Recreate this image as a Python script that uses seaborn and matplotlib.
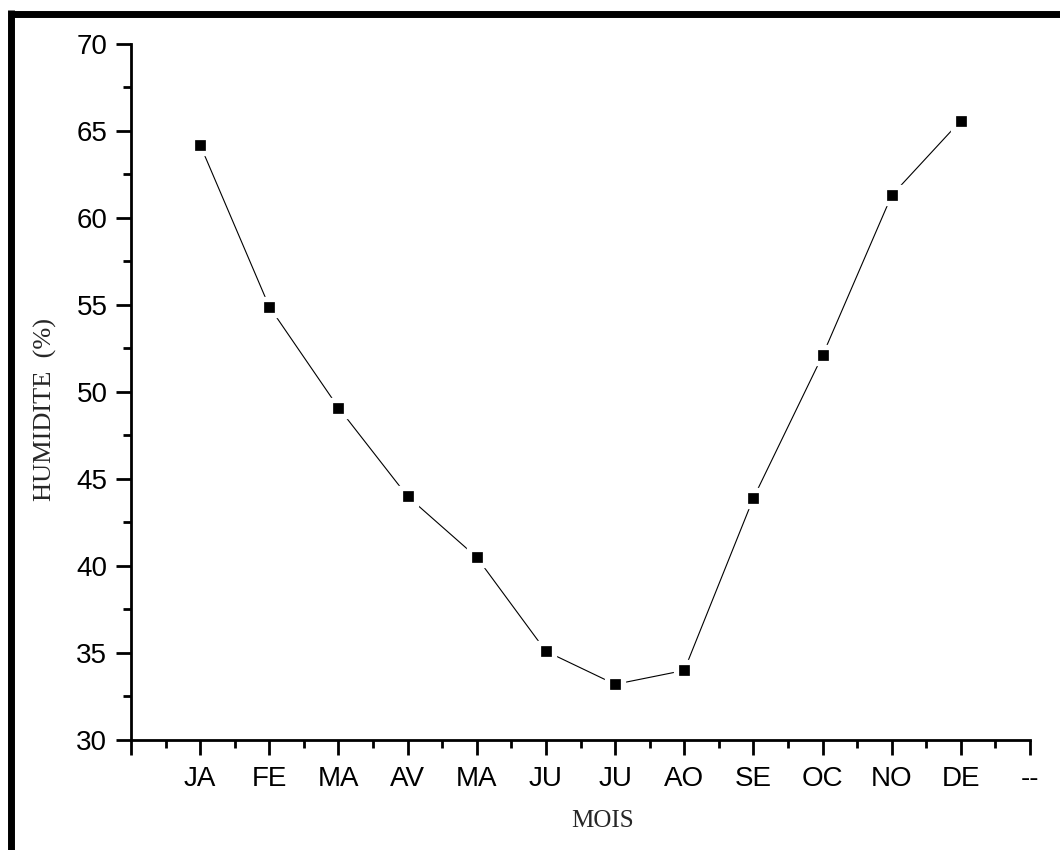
import numpy as np
import pandas as pd
import matplotlib
matplotlib.use("Agg")
import matplotlib.pyplot as plt
from matplotlib.lines import Line2D
from matplotlib.ticker import MultipleLocator
import seaborn as sns

# Données : humidité moyenne mensuelle (%)
mois = ["JA", "FE", "MA", "AV", "MA", "JU", "JU", "AO", "SE", "OC", "NO", "DE"]
humidite = [64.2, 54.9, 49.1, 44.0, 40.5, 35.1, 33.2, 34.0, 43.9, 52.1, 61.3, 65.6]
position = list(range(1, 13))
etiquettes_x = [""] + mois + ["--"]

df = pd.DataFrame({"pos": position, "mois": mois, "humidite": humidite})

sns.set_style("ticks")
plt.rcParams["font.family"] = ["Liberation Sans", "DejaVu Sans"]

fig = plt.figure(figsize=(10.6, 8.5), dpi=100)
ax = fig.add_axes([131 / 1060, 110 / 850, 899 / 1060, 696 / 850])

sns.lineplot(data=df, x="pos", y="humidite", ax=ax, color="black", linewidth=0.8,
             marker="s", markersize=11, markerfacecolor="black",
             markeredgecolor="white", markeredgewidth=3.8)

ax.set_xlim(0, 13)
ax.set_ylim(30, 70)
ax.set_xticks(range(0, 14))
ax.set_xticklabels(etiquettes_x)
ax.xaxis.set_minor_locator(MultipleLocator(0.5))
ax.yaxis.set_major_locator(MultipleLocator(5))
ax.yaxis.set_minor_locator(MultipleLocator(2.5))

for s in ["top", "right"]:
    ax.spines[s].set_visible(False)
for s in ["left", "bottom"]:
    ax.spines[s].set_linewidth(2.0)
    ax.spines[s].set_color("black")

ax.tick_params(axis="both", which="major", direction="out", length=11, width=2.0,
               labelsize=20, color="black", labelcolor="black")
ax.tick_params(axis="x", which="major", pad=8)
ax.tick_params(axis="y", which="major", pad=6)
ax.tick_params(axis="both", which="minor", direction="out", length=6, width=2.0,
               color="black")

ax.set_xlabel("MOIS", family="Liberation Serif", fontsize=18)
ax.set_ylabel("HUMIDITE  (%)", family="Liberation Serif", fontsize=19)
ax.xaxis.set_label_coords(0.524, -0.100)
ax.yaxis.set_label_coords(-0.082, 0.475)

# cadre épais (haut et gauche)
fig.add_artist(Line2D([11 / 1060, 1.0], [1 - 13.5 / 850, 1 - 13.5 / 850],
                      color="black", linewidth=5, transform=fig.transFigure,
                      solid_capstyle="butt"))
fig.add_artist(Line2D([11 / 1060, 11 / 1060], [0.0, 1 - 10 / 850],
                      color="black", linewidth=5, transform=fig.transFigure,
                      solid_capstyle="butt"))

fig.savefig("out.png", dpi=100, facecolor="white")
